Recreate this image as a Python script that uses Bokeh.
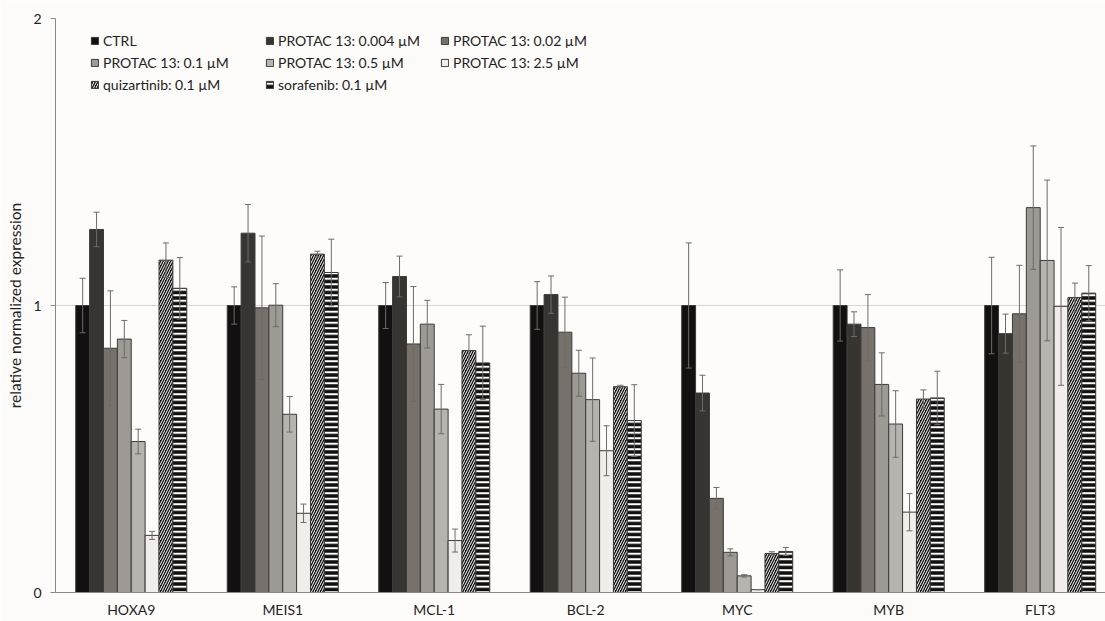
from bokeh.plotting import figure
from bokeh.models import (Range1d, FixedTicker, Whisker, TeeHead, ColumnDataSource,
                          Legend, LegendItem)
from bokeh.embed import file_html
from bokeh.resources import INLINE

# ---------------- data ----------------
genes = ["HOXA9", "MEIS1", "MCL-1", "BCL-2", "MYC", "MYB", "FLT3"]
series_names = ["CTRL", "PROTAC 13: 0.004 \u00b5M", "PROTAC 13: 0.02 \u00b5M",
                "PROTAC 13: 0.1 \u00b5M", "PROTAC 13: 0.5 \u00b5M", "PROTAC 13: 2.5 \u00b5M",
                "quizartinib: 0.1 \u00b5M", "sorafenib: 0.1 \u00b5M"]

ctrl = [1.0, 1.0, 1.0, 1.0, 1.0, 1.0, 1.0]
ctrl_err = [0.095, 0.065, 0.08, 0.083, 0.218, 0.124, 0.168]
p0004 = [1.265, 1.252, 1.101, 1.038, 0.695, 0.935, 0.902]
p0004_err = [0.06, 0.1, 0.071, 0.065, 0.062, 0.043, 0.068]
p002 = [0.851, 0.992, 0.866, 0.907, 0.328, 0.923, 0.971]
p002_err = [0.2, 0.25, 0.2, 0.122, 0.038, 0.115, 0.169]
p01 = [0.883, 1.001, 0.935, 0.764, 0.14, 0.725, 1.341]
p01_err = [0.065, 0.075, 0.083, 0.08, 0.012, 0.11, 0.215]
p05 = [0.526, 0.621, 0.639, 0.672, 0.058, 0.587, 1.157]
p05_err = [0.043, 0.062, 0.086, 0.145, 0.004, 0.116, 0.28]
p25 = [0.199, 0.276, 0.181, 0.494, 0.01, 0.28, 0.997]
p25_err = [0.014, 0.032, 0.04, 0.087, 0.0, 0.065, 0.275]
quiz = [1.158, 1.179, 0.843, 0.717, 0.136, 0.674, 1.028]
quiz_err = [0.06, 0.01, 0.055, 0.005, 0.006, 0.032, 0.05]
sora = [1.06, 1.115, 0.8, 0.599, 0.143, 0.678, 1.043]
sora_err = [0.107, 0.116, 0.128, 0.125, 0.014, 0.093, 0.096]

y_ticks = [0, 1, 2]

values = [ctrl, p0004, p002, p01, p05, p25, quiz, sora]
errors = [ctrl_err, p0004_err, p002_err, p01_err, p05_err, p25_err, quiz_err, sora_err]

# ---------------- styles ----------------
fills = ["#121010", "#373532", "#77716c", "#9d9994", "#b7b3af", "#f1edeb", "#111111", "#111111"]
hatches = [None, None, None, None, None, None, "right_diagonal_line", "horizontal_line"]
hatch_scales = [None, None, None, None, None, None, 5.0, 5.5]
hatch_weights = [None, None, None, None, None, None, 1.0, 2.0]
legend_order = [0, 3, 6, 1, 4, 7, 2, 5]   # row-major display in a column-filled grid
BW = 0.0916
FONT = "Lato"
BG = "#fefcfb"

p = figure(width=1105, height=621, output_backend="svg", toolbar_location=None,
           x_range=Range1d(0, 6.931), y_range=Range1d(0, 2),
           min_border_left=55, min_border_right=0, min_border_top=18, min_border_bottom=29,
           background_fill_color=BG, border_fill_color=BG)
p.outline_line_color = None

renderers = []
for j, (name, vals, errs) in enumerate(zip(series_names, values, errors)):
    xs = [i + 0.5 + (j - 3.5) * BW for i in range(len(genes))]
    src = ColumnDataSource(dict(x=xs, top=vals,
                                upper=[v + e for v, e in zip(vals, errs)],
                                lower=[v - e for v, e in zip(vals, errs)]))
    kw = dict(fill_color=fills[j], line_color="#3d3a38", line_width=1)
    if hatches[j]:
        kw.update(hatch_pattern=hatches[j], hatch_color="white",
                  hatch_scale=hatch_scales[j], hatch_weight=hatch_weights[j])
    r = p.vbar(x="x", top="top", bottom=0, width=BW, source=src, **kw)
    renderers.append(r)
    w = Whisker(base="x", upper="upper", lower="lower", source=src, dimension="height",
                line_color="#6e6a68", line_width=1,
                upper_head=TeeHead(size=6, line_color="#6e6a68", line_width=1),
                lower_head=TeeHead(size=6, line_color="#6e6a68", line_width=1))
    w.level = "overlay"
    p.add_layout(w)

items = [LegendItem(label=series_names[k], renderers=[renderers[k]]) for k in legend_order]
legend = Legend(items=items, ncols=3, location=(35, 498),
                glyph_width=9, glyph_height=9, label_standoff=4, label_width=160,
                label_height=20, spacing=2, padding=0, margin=0,
                border_line_alpha=0, background_fill_alpha=0,
                label_text_font=FONT, label_text_font_size="14px", label_text_color="#222222")
p.add_layout(legend, "center")

# axes
p.yaxis.ticker = FixedTicker(ticks=y_ticks)
p.yaxis.minor_tick_line_color = None
p.yaxis.major_tick_out = 5
p.yaxis.major_tick_in = 0
p.yaxis.major_tick_line_color = "#8c8886"
p.yaxis.axis_line_color = "#8c8886"
p.yaxis.major_label_text_font = FONT
p.yaxis.major_label_text_font_size = "14px"
p.yaxis.major_label_text_color = "#222222"
p.yaxis.major_label_standoff = 9
p.yaxis.axis_label = "relative normalized expression"
p.yaxis.axis_label_text_font = FONT
p.yaxis.axis_label_text_font_size = "15.5px"
p.yaxis.axis_label_text_font_style = "normal"
p.yaxis.axis_label_text_color = "#222222"
p.yaxis.axis_label_standoff = 6

centers = [i + 0.5 for i in range(len(genes))]
p.xaxis.ticker = FixedTicker(ticks=centers)
p.xaxis.major_label_overrides = {c: g for c, g in zip(centers, genes)}
p.xaxis.major_tick_line_color = None
p.xaxis.major_tick_out = 0
p.xaxis.major_tick_in = 0
p.xaxis.minor_tick_line_color = None
p.xaxis.axis_line_color = "#8c8886"
p.xaxis.major_label_text_font = FONT
p.xaxis.major_label_text_font_size = "14px"
p.xaxis.major_label_text_color = "#222222"
p.xaxis.major_label_standoff = 8

p.xgrid.grid_line_color = None
p.ygrid.ticker = FixedTicker(ticks=[1, 2])
p.ygrid.grid_line_color = "#d9d4d0"

open("out.html", "w").write(file_html(p, INLINE))
